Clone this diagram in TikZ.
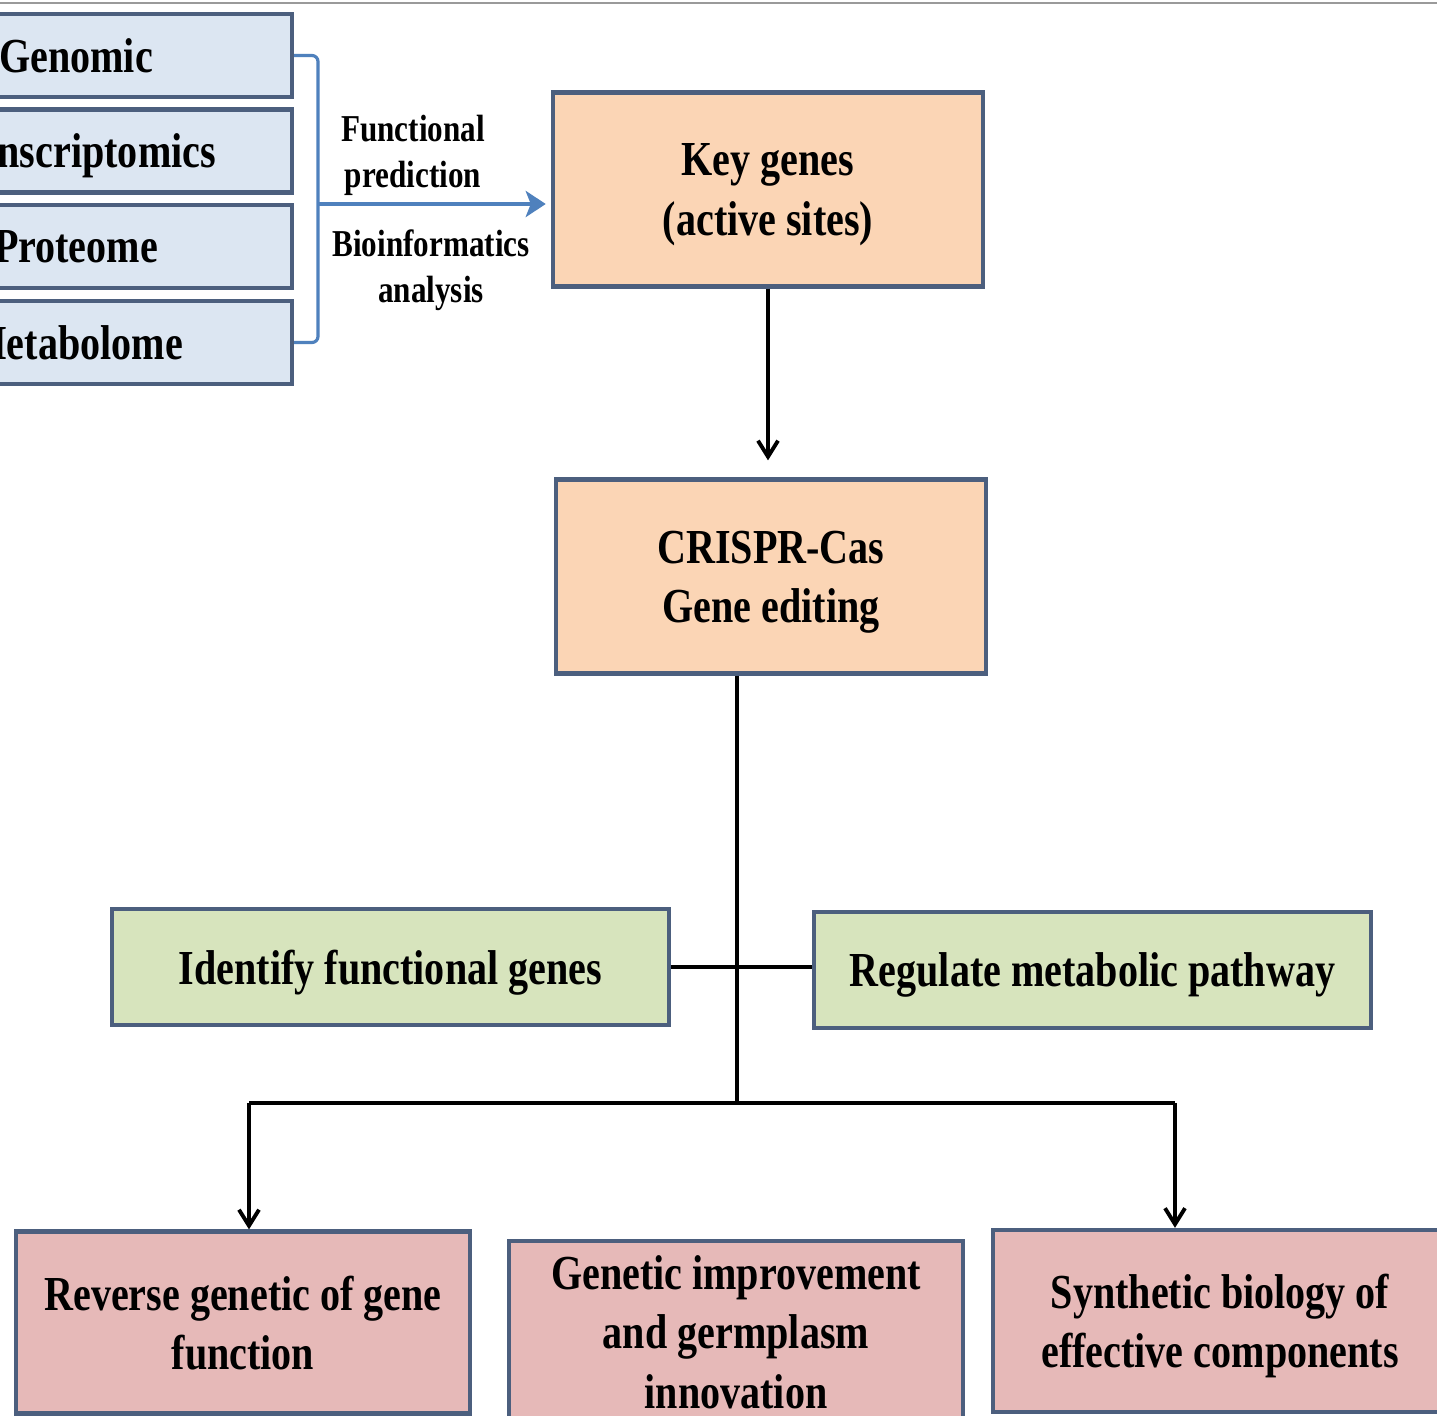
\documentclass[tikz,border=0pt]{standalone}
\usepackage{fontspec}
\setmainfont{Liberation Serif}[FakeStretch=0.82]
\usetikzlibrary{arrows.meta}
\definecolor{bordc}{HTML}{4C5F7E}
\definecolor{blfill}{HTML}{DCE6F2}
\definecolor{pcfill}{HTML}{FBD5B5}
\definecolor{grfill}{HTML}{D7E4BD}
\definecolor{pkfill}{HTML}{E6B9B8}
\definecolor{arrblue}{HTML}{4F81BD}
\definecolor{topgray}{HTML}{9A9A9A}
\tikzset{
  box/.style={draw=bordc, line width=1.2pt, align=center, inner sep=0pt,
    text depth=0pt, font=\bfseries\fontsize{13.9}{16.8}\selectfont},
  omic/.style={box, fill=blfill, minimum width=4.32cm, minimum height=0.83cm},
  keybox/.style={box, fill=pcfill, minimum width=4.30cm, minimum height=1.94cm},
  funbox/.style={box, fill=grfill, minimum width=5.57cm, minimum height=1.16cm},
  outbox/.style={box, fill=pkfill, minimum width=4.53cm, minimum height=1.82cm},
  lbl/.style={align=center, inner sep=0pt, font=\bfseries\fontsize{10.8}{13.1}\selectfont},
  conn/.style={line width=1.1pt, black},
  arr/.style={conn, -{Straight Barb[length=0.16cm,width=0.2cm]}},
  brk/.style={line width=0.9pt, arrblue, rounded corners=0.06cm},
  barrow/.style={line width=1.4pt, arrblue, -{Stealth[length=0.2cm,width=0.26cm,inset=0.05cm]}}
}
\begin{document}
\begin{tikzpicture}[x=0.01cm, y=-0.01cm]
\useasboundingbox (0,0) rectangle (1437,1415);
\fill[white] (0,0) rectangle (1437,1415);
\draw[topgray, line width=0.6pt] (0,3) -- (1437,3);

% omics boxes (left part cut by the page edge)
\node[omic] (gen) at (76,55.5) {Genomic};
\node[omic] (tra) at (76,151) {Transcriptomics};
\node[omic] (pro) at (76,246.5) {Proteome};
\node[omic] (met) at (76,342.5) {Metabolome};

% bracket and blue arrow
\coordinate (bk) at (318,204);
\draw[brk] (gen.east) -| (bk) |- (met.east);

\node[keybox] (key) at (768,189.5) {Key genes\\(active sites)};
\draw[barrow, shorten >=0.05cm] (bk) -- (bk -| key.west);

\node[lbl] (fp) at (413,155) {Functional\\prediction};
\node[lbl] (ba) at (431,270) {Bioinformatics\\analysis};

\node[keybox] (cr) at (771,576.5) {CRISPR-Cas\\Gene editing};
\draw[arr, shorten >=0.17cm] (key.south) -- (key.south |- cr.north);

% trunk
\coordinate (cv) at (737,1103);
\draw[conn] (cr.south -| cv) -- (cv);

\node[funbox] (idf) at (390.5,967) {Identify functional genes};
\node[funbox] (reg) at (1092.5,970) {Regulate metabolic pathway};
\draw[conn] (idf.east) -- (idf.east -| reg.west);

\node[outbox] (rev) at (243,1322.5) {Reverse genetic of gene\\function};
\node[outbox] (gim) at (736,1332) {Genetic improvement\\and germplasm\\innovation};
\node[outbox] (syn) at (1220,1321) {Synthetic biology of\\effective components};

\coordinate (bl) at (249,1103);
\coordinate (br) at (1175,1103);
\draw[conn] (bl) -- (br);
\draw[arr] (bl) -- (bl |- rev.north);
\draw[arr] (br) -- (br |- syn.north);
\end{tikzpicture}
\end{document}
